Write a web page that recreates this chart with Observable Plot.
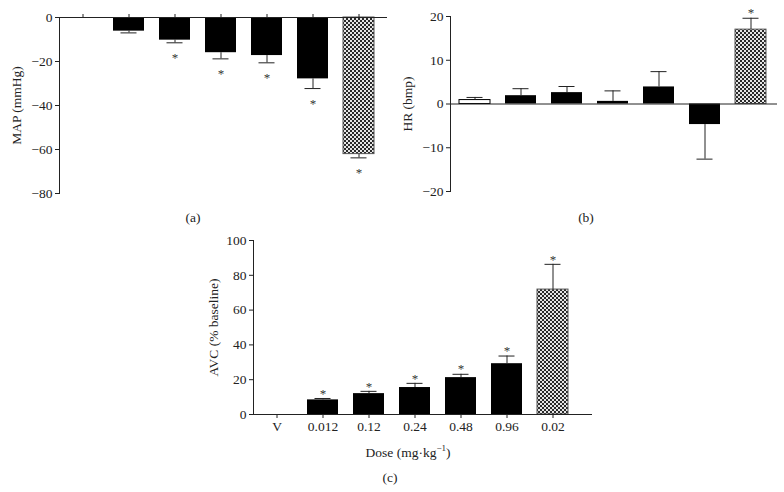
<!DOCTYPE html>
<html><head><meta charset="utf-8">
<script src="https://cdn.jsdelivr.net/npm/d3@7"></script>
<script src="https://cdn.jsdelivr.net/npm/@observablehq/plot@0.6"></script>
<style>
body{margin:0;background:#fff;}
#root{position:relative;width:784px;height:492px;font-family:"Liberation Serif",serif;color:#222;overflow:hidden;}
.panel{position:absolute;}
.cap{position:absolute;font-size:13.5px;transform:translate(-50%,-50%);white-space:nowrap;}
sup{font-size:9px;}
</style></head><body>
<svg width="0" height="0" style="position:absolute">
  <defs>
    <pattern id="checker" width="4" height="4" patternUnits="userSpaceOnUse">
      <rect width="4" height="4" fill="#e6e6e6"/>
      <rect width="2" height="2" fill="#2a2a2a"/>
      <rect x="2" y="2" width="2" height="2" fill="#2a2a2a"/>
    </pattern>
  </defs>
</svg>
<div id="root"></div>
<script>
// ---- data ----
const doses = ["V", "0.012", "0.12", "0.24", "0.48", "0.96", "0.02"];
const groups = ["vehicle", "drug", "drug", "drug", "drug", "drug", "reference"];

const mapMean = [0, -6.2, -10.3, -16.0, -17.3, -27.9, -62.1];
const mapErr  = [0, 0.8, 1.2, 2.8, 3.3, 4.4, 1.7];
const mapSig  = [false, false, true, true, true, true, true];
const mapTicks = [0, -20, -40, -60, -80];

const hrMean = [0.9, 1.9, 2.6, 0.6, 3.9, -4.7, 17.0];
const hrErr  = [0.6, 1.6, 1.4, 2.4, 3.5, 7.9, 2.6];
const hrSig  = [false, false, false, false, false, false, true];
const hrTicks = [20, 10, 0, -10, -20];

const avcMean = [0, 8.4, 12.0, 15.5, 21.2, 29.2, 71.8];
const avcErr  = [0, 0.8, 1.3, 2.4, 1.9, 4.4, 14.5];
const avcSig  = [false, true, true, true, true, true, true];
const avcTicks = [0, 20, 40, 60, 80, 100];

function rowsOf(mean, err, sig) {
  return doses.map((d, i) => ({
    dose: d, group: groups[i], mean: mean[i], err: err[i], sig: sig[i],
    end: mean[i] + (mean[i] < 0 ? -1 : 1) * err[i]
  }));
}

function panel(cfg) {
  const rows = rowsOf(cfg.mean, cfg.err, cfg.sig);
  const ink = "#222";
  const marks = [
    Plot.barY(rows.filter(d => d.group === "drug"), {x: "dose", y: "mean", fill: "#000"}),
    Plot.barY(rows.filter(d => d.group === "vehicle" && d.mean !== 0), {x: "dose", y: "mean", fill: "#fff", stroke: "#000", strokeWidth: 1}),
    Plot.barY(rows.filter(d => d.group === "reference"), {x: "dose", y: "mean", fill: "url(#checker)", stroke: "#555", strokeWidth: 1}),
    Plot.ruleX(rows.filter(d => d.err > 0), {x: "dose", y1: "mean", y2: "end", stroke: ink, strokeWidth: 1}),
    Plot.tickY(rows.filter(d => d.err > 0), {x: "dose", y: "end", stroke: ink, strokeWidth: 1, insetLeft: 7.5, insetRight: 7.5}),
    Plot.text(rows.filter(d => d.sig && d.mean < 0), {x: "dose", y: "end", text: () => "*", dy: 15, fontSize: 13, fill: "#333"}),
    Plot.text(rows.filter(d => d.sig && d.mean >= 0), {x: "dose", y: "end", text: () => "*", dy: -5, fontSize: 13, fill: "#333"}),
    Plot.ruleY([0], {stroke: ink, strokeWidth: 1}),
    Plot.frame({anchor: "left", stroke: ink, strokeWidth: 1}),
    Plot.axisY({ticks: cfg.ticks, tickSize: 4, tickPadding: 3, label: cfg.label, labelAnchor: "center", labelArrow: "none", labelOffset: cfg.labelOffset, fontSize: 13.5, stroke: ink, fill: ink})
  ];
  if (cfg.xAxis === "top") {
    marks.push(Plot.axisX({anchor: "top", tickSize: 4, tickFormat: () => "", label: null, stroke: ink}));
  } else if (cfg.xAxis === "bottom") {
    marks.push(Plot.axisX({anchor: "bottom", tickSize: 4, tickPadding: 3, label: null, fontSize: 13.5, stroke: ink, fill: ink}));
  }
  return Plot.plot({
    width: cfg.width, height: cfg.height,
    marginLeft: cfg.ml, marginRight: cfg.mr, marginTop: cfg.mt, marginBottom: cfg.mb,
    style: {fontFamily: "'Liberation Serif', serif", fontSize: "13.5px", background: "transparent", color: ink},
    x: {type: "band", domain: doses, paddingInner: 0.33, paddingOuter: 0.165, insetRight: cfg.insetRight, axis: null},
    y: {domain: cfg.domain, axis: null},
    marks
  });
}

const root = document.getElementById("root");
function place(node, left, top) {
  const d = document.createElement("div");
  d.className = "panel";
  d.style.left = left + "px"; d.style.top = top + "px";
  d.appendChild(node);
  root.appendChild(d);
}
function caption(html, x, y) {
  const d = document.createElement("div");
  d.className = "cap";
  d.style.left = x + "px"; d.style.top = y + "px";
  d.innerHTML = html;
  root.appendChild(d);
}

place(panel({mean: mapMean, err: mapErr, sig: mapSig, domain: [-80, 0], ticks: mapTicks,
  label: "MAP (mmHg)", labelOffset: 48, width: 392, height: 200, ml: 59, mr: 5, mt: 17, mb: 7, insetRight: 5, xAxis: "top"}), 0, 0);
place(panel({mean: hrMean, err: hrErr, sig: hrSig, domain: [-20, 20], ticks: hrTicks,
  label: "HR (bmp)", labelOffset: 48, width: 392, height: 200, ml: 58, mr: 7, mt: 16, mb: 9, insetRight: 3, xAxis: null}), 392, 0);
place(panel({mean: avcMean, err: avcErr, sig: avcSig, domain: [0, 100], ticks: avcTicks,
  label: "AVC (% baseline)", labelOffset: 45, width: 400, height: 215, ml: 53, mr: 8, mt: 15, mb: 26, insetRight: 16, xAxis: "bottom"}), 200, 225);

caption("(a)", 193, 218);
caption("(b)", 586, 218);
caption("Dose (mg·kg<sup>−1</sup>)", 408, 452);
caption("(c)", 390, 478);
</script>
</body></html>
